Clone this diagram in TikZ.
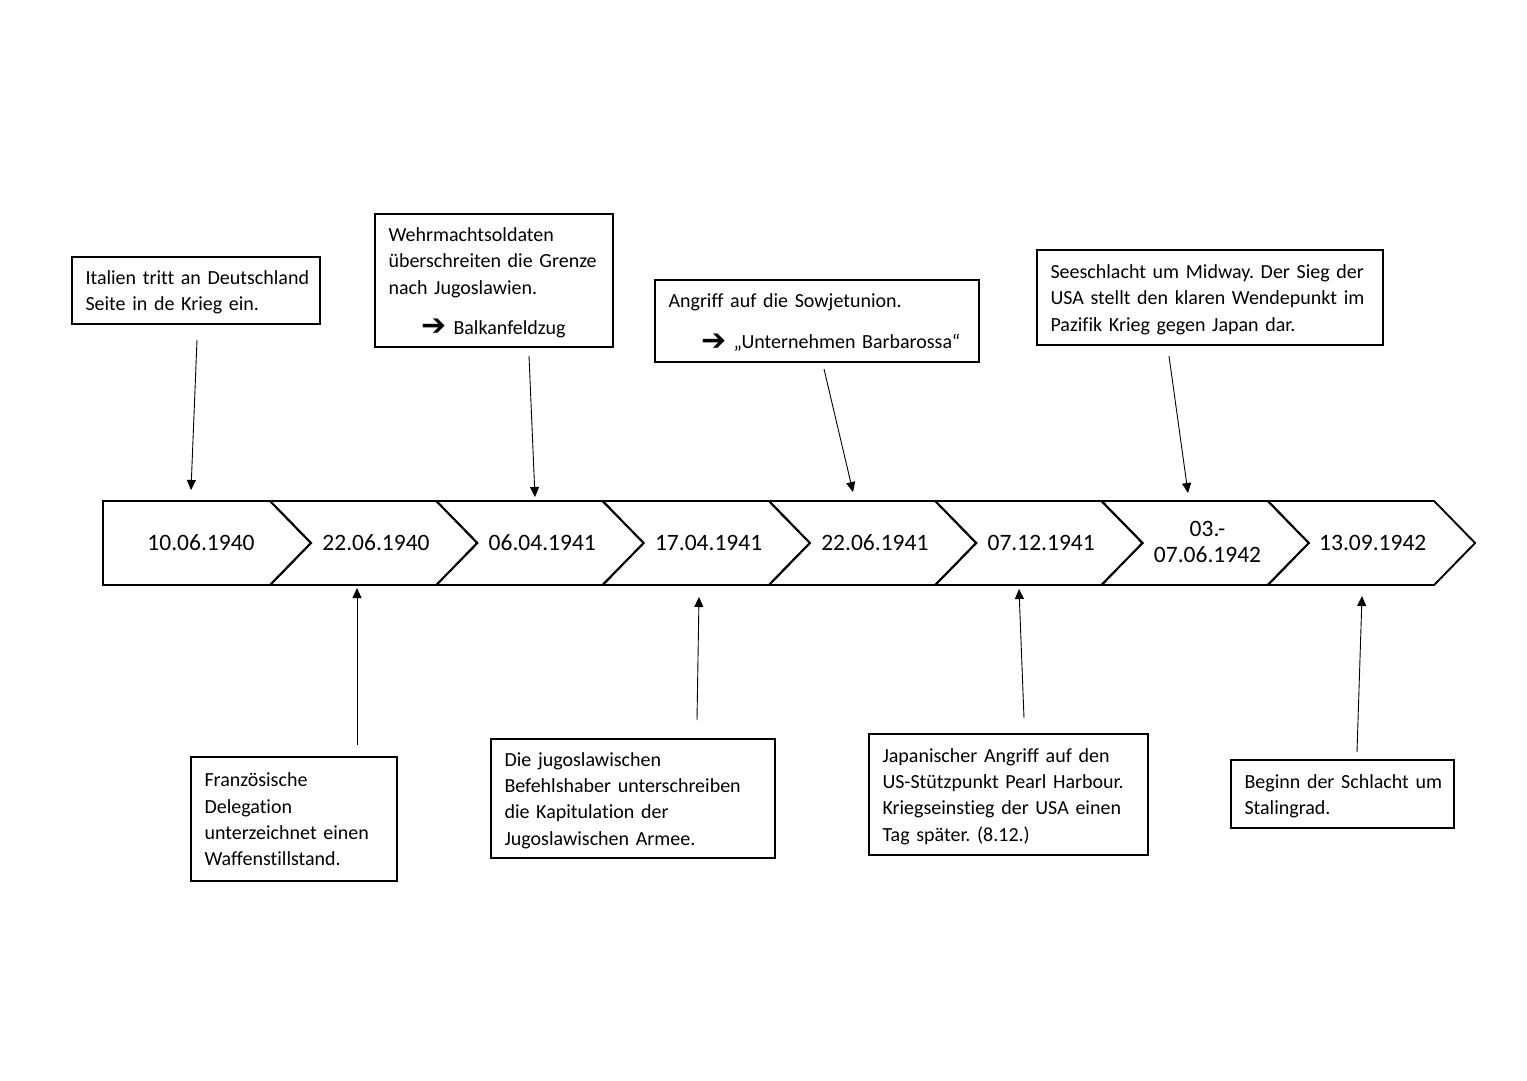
\documentclass[tikz,border=0pt]{standalone}
\usepackage{fontspec}
\setmainfont{Carlito}[Ligatures=CommonOff]
\newfontfamily\arrowfont{DejaVu Sans}
\usetikzlibrary{arrows.meta}
\newcommand{\barr}{\hspace*{33pt}\makebox[32pt][l]{\arrowfont\fontsize{30}{20}\selectfont\raisebox{-1.5pt}{➔}}}
\newcommand{\lines}[1]{\raisebox{-2pt}[\height][\depth]{\begin{tabular}{@{}l@{}}#1\end{tabular}}}
\newcommand{\evfont}{\fontsize{20}{26.4}\selectfont\frenchspacing\spaceskip=3pt plus 1pt minus 1pt\relax}
\begin{document}
\begin{tikzpicture}[x=1pt,y=-1pt,
  evbox/.style={draw,line width=1.3pt,inner xsep=13.5pt,inner ysep=0pt,align=left,
    font=\evfont},
  datelbl/.style={font=\fontsize{23.5}{26}\selectfont,align=center,inner sep=0pt},
  chev/.style={draw,line width=1.9pt,line join=miter},
  ptr/.style={line width=0.9pt,-{Triangle[length=10pt,width=9pt]}}]
\useasboundingbox (0,0) rectangle (1527,1080);
\fill[white] (0,0) rectangle (1527,1080);
% chevrons
\draw[chev] (103,501) -- (270,501) -- (311,543) -- (270,585) -- (103,585) -- cycle;
\foreach \i in {1,...,7}{
  \pgfmathsetmacro{\L}{270+166.3*(\i-1)}
  \draw[chev] (\L,501) -- ({\L+166.3},501) -- ({\L+207.3},543) -- ({\L+166.3},585) -- (\L,585) -- ({\L+41},543) -- cycle;
}
% dates
\node[datelbl] (d1) at (201,543) {10.06.1940};
\node[datelbl] (d2) at (376,543) {22.06.1940};
\node[datelbl] (d3) at (542.3,543) {06.04.1941};
\node[datelbl] (d4) at (708.6,543) {17.04.1941};
\node[datelbl] (d5) at (874.9,543) {22.06.1941};
\node[datelbl] (d6) at (1041.2,543) {07.12.1941};
\node[datelbl] (d7) at (1207.5,542) {03.-\\07.06.1942};
\node[datelbl] (d8) at (1372.8,543) {13.09.1942};
% event boxes top
\node[evbox,minimum width=248pt,minimum height=67pt,text width=221pt] (b1) at (196,290.5)
  {\lines{Italien tritt an Deutschland\\Seite in de Krieg ein.}};
\node[evbox,minimum width=238pt,minimum height=133pt,text width=211pt] (b2) at (494,280.5)
  {\lines{Wehrmachtsoldaten\\überschreiten die Grenze\\nach Jugoslawien.\\[13.6pt]\barr Balkanfeldzug}};
\node[evbox,minimum width=324pt,minimum height=82pt,text width=297pt] (b3) at (817,321)
  {\lines{Angriff auf die Sowjetunion.\\[14.6pt]\barr „Unternehmen Barbarossa“}};
\node[evbox,minimum width=346pt,minimum height=95pt,text width=319pt] (b4) at (1210,297.5)
  {\lines{Seeschlacht um Midway. Der Sieg der\\USA stellt den klaren Wendepunkt im\\Pazifik Krieg gegen Japan dar.}};
% event boxes bottom
\node[evbox,minimum width=206pt,minimum height=124pt,text width=179pt] (b5) at (294,819)
  {\lines{Französische\\Delegation\\unterzeichnet einen\\Waffenstillstand.}};
\node[evbox,minimum width=284pt,minimum height=119pt,text width=257pt] (b6) at (633,798.5)
  {\lines{Die jugoslawischen\\Befehlshaber unterschreiben\\die Kapitulation der\\Jugoslawischen Armee.}};
\node[evbox,minimum width=279pt,minimum height=121pt,text width=252pt] (b7) at (1008.5,794.5)
  {\lines{Japanischer Angriff auf den\\US-Stützpunkt Pearl Harbour.\\Kriegseinstieg der USA einen\\Tag später. (8.12.)}};
\node[evbox,minimum width=223pt,minimum height=68pt,text width=196pt] (b8) at (1342.5,794)
  {\lines{Beginn der Schlacht um\\Stalingrad.}};
% arrow endpoints
\coordinate (s1) at (197,340);  \coordinate (e1) at (191,490);
\coordinate (s2) at (529,356);  \coordinate (e2) at (535,497);
\coordinate (s3) at (824,369);  \coordinate (e3) at (853,492);
\coordinate (s4) at (1169,356); \coordinate (e4) at (1188,493);
\coordinate (s5) at (357,745);  \coordinate (e5) at (357,588);
\coordinate (s6) at (697,720);  \coordinate (e6) at (699,597);
\coordinate (s7) at (1024,718); \coordinate (e7) at (1019,589);
\coordinate (s8) at (1357,752); \coordinate (e8) at (1362,596);
\foreach \k in {1,...,8}{\draw[ptr] (s\k) -- (e\k);}
\end{tikzpicture}
\end{document}
